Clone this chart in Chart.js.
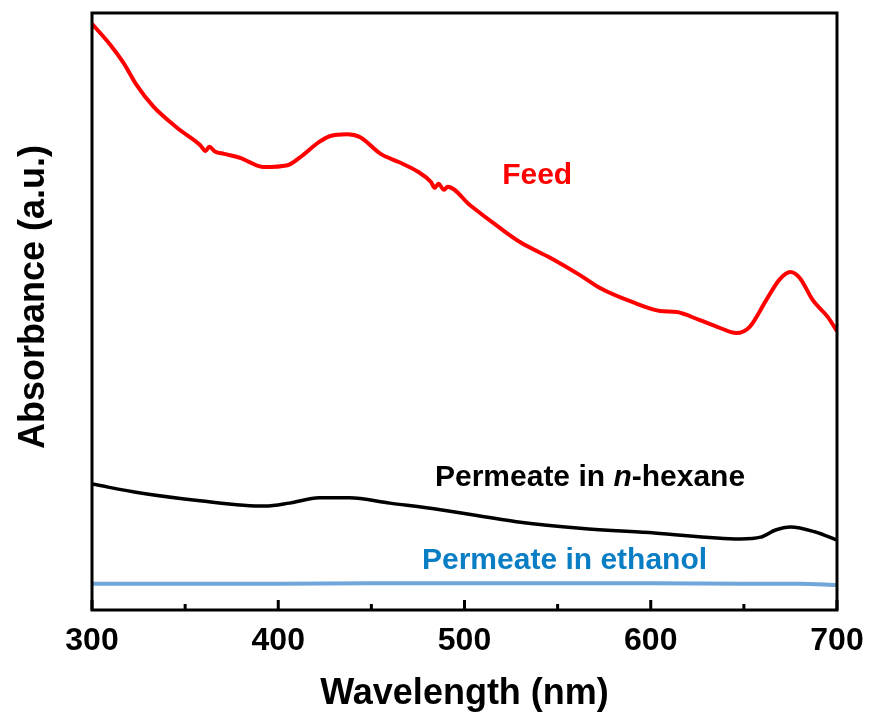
<!DOCTYPE html>
<html>
<head>
<meta charset="utf-8">
<script src="https://cdn.jsdelivr.net/npm/chart.js@4"></script>
<style>
  html, body { margin: 0; padding: 0; background: #fff; }
  #wrap { width: 871px; height: 721px; }
</style>
</head>
<body>
<div id="wrap"><canvas id="uvChart" width="871" height="721"></canvas></div>
<script>
const FONT = '"Liberation Sans", Arial, sans-serif';

// Feed spectrum
const feedWl = [300, 310, 317, 324, 333, 346, 358, 361, 363, 366, 371, 380, 384, 392, 405, 412, 422, 428, 437, 444, 455, 465, 475, 482, 484, 486, 489, 491, 503, 519, 530, 546, 562, 573, 590, 605, 614, 626, 636, 646, 653, 662, 669, 675, 680, 687, 695, 700];
const feedAbs = [0.982, 0.946, 0.916, 0.879, 0.843, 0.807, 0.779, 0.769, 0.776, 0.768, 0.764, 0.757, 0.751, 0.742, 0.745, 0.759, 0.784, 0.794, 0.797, 0.792, 0.764, 0.750, 0.734, 0.717, 0.707, 0.714, 0.704, 0.709, 0.678, 0.640, 0.616, 0.590, 0.561, 0.539, 0.516, 0.501, 0.499, 0.486, 0.474, 0.464, 0.474, 0.519, 0.553, 0.566, 0.556, 0.519, 0.491, 0.467];

// Permeate in n-hexane
const hexWl = [300, 326, 358, 393, 406, 422, 438, 460, 487, 530, 562, 602, 648, 659, 667, 675, 688, 700];
const hexAbs = [0.211, 0.196, 0.183, 0.174, 0.179, 0.188, 0.188, 0.179, 0.168, 0.147, 0.137, 0.129, 0.119, 0.122, 0.134, 0.139, 0.131, 0.117];

// Permeate in ethanol
const ethWl = [300, 350, 400, 450, 500, 550, 600, 650, 680, 700];
const ethAbs = [0.044, 0.044, 0.044, 0.045, 0.045, 0.045, 0.045, 0.044, 0.044, 0.042];

const xTicks = [300, 400, 500, 600, 700];

function toPoints(xs, ys) {
  return xs.map((x, i) => ({ x: x, y: ys[i] }));
}

// frame, inward tick marks, y title
const framePlugin = {
  id: "frame",
  afterDraw(chart) {
    const { ctx, chartArea: a, scales } = chart;
    ctx.save();
    ctx.strokeStyle = "#000";
    ctx.lineWidth = 3;
    const xs = scales.x;
    xs.ticks.forEach((t) => {
      const px = xs.getPixelForValue(t.value);
      const len = xTicks.includes(t.value) ? 10 : 6;
      ctx.beginPath();
      ctx.moveTo(px, a.bottom);
      ctx.lineTo(px, a.bottom - len);
      ctx.stroke();
    });
    ctx.strokeRect(a.left, a.top, a.right - a.left, a.bottom - a.top);

    // y title sits a bit above the plot's middle
    ctx.translate(44, 297);
    ctx.rotate(-Math.PI / 2);
    ctx.font = "bold 36px " + FONT;
    ctx.fillStyle = "#000";
    ctx.textAlign = "center";
    ctx.textBaseline = "alphabetic";
    ctx.fillText("Absorbance (a.u.)", 0, 0);
    ctx.restore();
  },
};

// curve labels
const labelPlugin = {
  id: "curveLabels",
  afterDatasetsDraw(chart) {
    const { ctx, scales } = chart;
    const x = scales.x, y = scales.y;
    ctx.save();
    ctx.textBaseline = "middle";
    ctx.textAlign = "center";

    ctx.font = "bold 30px " + FONT;
    ctx.fillStyle = "#ff0000";
    ctx.fillText("Feed", x.getPixelForValue(539), y.getPixelForValue(0.727));

    ctx.fillStyle = "#0a7ec4";
    ctx.fillText("Permeate in ethanol", x.getPixelForValue(553.7), y.getPixelForValue(0.082));

    // "Permeate in n-hexane" with italic n
    const parts = [
      { t: "Permeate in ", f: "bold 30px " + FONT },
      { t: "n", f: "italic bold 30px " + FONT },
      { t: "-hexane", f: "bold 30px " + FONT },
    ];
    let total = 0;
    parts.forEach((p) => { ctx.font = p.f; p.w = ctx.measureText(p.t).width; total += p.w; });
    let cx = x.getPixelForValue(567.4) - total / 2;
    const cy = y.getPixelForValue(0.221);
    ctx.textAlign = "left";
    ctx.fillStyle = "#000";
    parts.forEach((p) => { ctx.font = p.f; ctx.fillText(p.t, cx, cy); cx += p.w; });
    ctx.restore();
  },
};

new Chart(document.getElementById("uvChart"), {
  type: "line",
  data: {
    datasets: [
      {
        label: "Feed",
        data: toPoints(feedWl, feedAbs),
        borderColor: "#ff0000",
        borderWidth: 4,
      },
      {
        label: "Permeate in n-hexane",
        data: toPoints(hexWl, hexAbs),
        borderColor: "#000000",
        borderWidth: 3.5,
      },
      {
        label: "Permeate in ethanol",
        data: toPoints(ethWl, ethAbs),
        borderColor: "#70a6da",
        borderWidth: 4,
      },
    ],
  },
  options: {
    responsive: false,
    animation: false,
    layout: { padding: { top: 13, right: 34, left: 0, bottom: 0 } },
    elements: {
      point: { radius: 0 },
      line: { cubicInterpolationMode: "monotone" },
    },
    plugins: {
      legend: { display: false },
      tooltip: { enabled: false },
    },
    scales: {
      x: {
        type: "linear",
        min: 300,
        max: 700,
        grid: { display: false, drawTicks: false },
        border: { display: false },
        ticks: {
          stepSize: 50,
          autoSkip: false,
          maxRotation: 0,
          padding: 12,
          color: "#000",
          font: { family: FONT, size: 32, weight: "bold" },
          callback: (v) => (xTicks.includes(v) ? String(v) : ""),
        },
        title: {
          display: true,
          text: "Wavelength (nm)",
          color: "#000",
          font: { family: FONT, size: 36, weight: "bold" },
          padding: { top: 0, bottom: 5 },
        },
        afterFit: (s) => {
          s.height = 111;
          s.paddingLeft = 0;
          s.paddingRight = 0;
        },
      },
      y: {
        min: 0,
        max: 1,
        grid: { display: false, drawTicks: false },
        border: { display: false },
        ticks: { display: false },
        title: { display: false },
        afterFit: (s) => { s.width = 92; },
      },
    },
  },
  plugins: [framePlugin, labelPlugin],
});
</script>
</body>
</html>
